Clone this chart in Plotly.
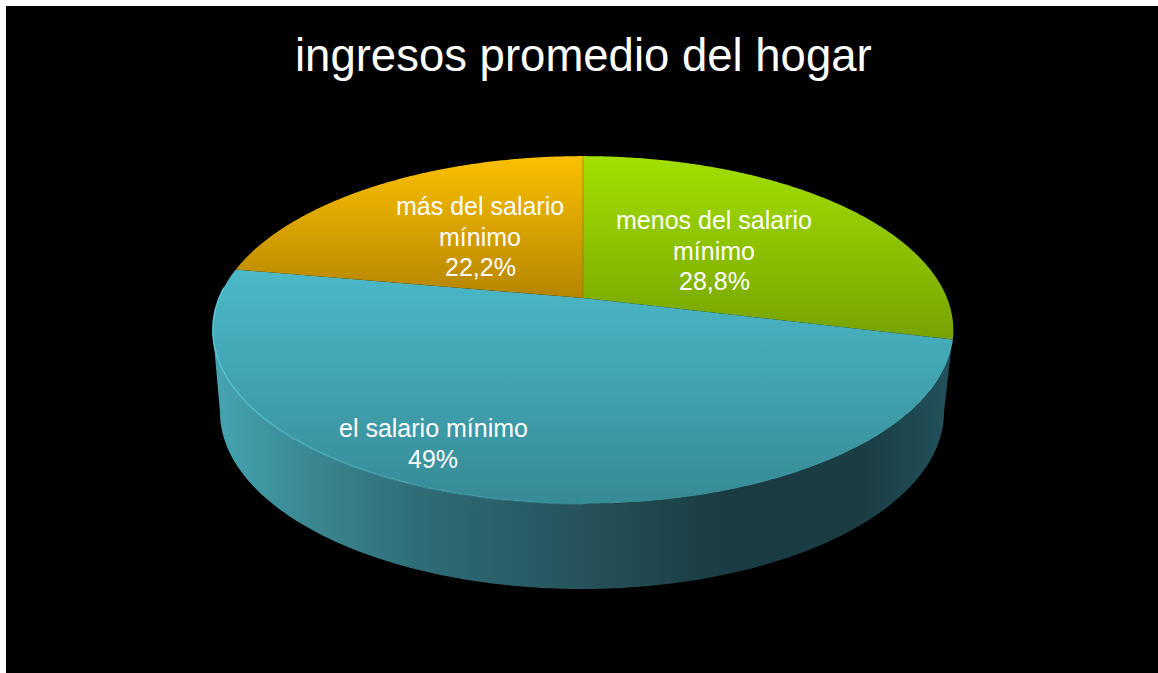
import numpy as np
import plotly.graph_objects as go

# data
categories = [["menos del salario", "mínimo"], ["el salario mínimo"], ["más del salario", "mínimo"]]
percent_labels = ["28,8%", "49%", "22,2%"]
values = [28.8, 49.0, 22.2]
title = "ingresos promedio del hogar"

# styles
top_colors = [("#A3E000", "#76A200"), ("#4BB9C8", "#378A96"), ("#FBC000", "#B58500")]
grad_spans = [(156, 340), (270, 504), (156, 298)]
label_pos = [(714, 220), (433, 428), (480, 206)]
LINE_STEP = 30.5
W, H = 1158, 673
CX, CY = 583, 298
A, B, K = 168.0, 364.0, 0.184


def project(theta):
    """Perspective view of a disc: theta clockwise from the top, in radians."""
    u, v = np.sin(theta), np.cos(theta)
    d = 1 + K * v
    return CX + B * u / d, CY - A * v / d


fig = go.Figure()

# side wall of the pie, from the widest rim point on the right to the one on the left
widest = np.arccos(-K)
t_up = np.linspace(widest, 2 * np.pi - widest, 240)
xr, yr = project(t_up)
t_low = np.linspace(3 * np.pi / 2, np.pi / 2, 240)
xb = 582 + 362 * np.sin(t_low)
yb = 412 - 177 * np.cos(t_low)
fig.add_trace(go.Scatter(
    x=np.r_[xr, xb, xr[:1]], y=np.r_[yr, yb, yr[:1]], mode="none", fill="toself",
    hoverinfo="skip", showlegend=False,
    fillgradient=dict(type="horizontal", start=220, stop=945, colorscale=[
        [0, "#45A3B0"], [0.12, "#3A8893"], [0.28, "#2E6C76"], [0.5, "#26525B"],
        [0.7, "#1A3B41"], [0.88, "#1A3C42"], [1, "#21505A"]]),
))

# top faces, one per value
start = 0.0
total = sum(values)
for i, v in enumerate(values):
    a0 = start / total * 2 * np.pi
    a1 = (start + v) / total * 2 * np.pi
    start += v
    th = np.linspace(a0, a1, 200)
    x, y = project(th)
    c0, c1 = top_colors[i]
    fig.add_trace(go.Scatter(
        x=np.r_[CX, x, CX], y=np.r_[CY, y, CY], mode="none", fill="toself",
        name=" ".join(categories[i]), hoverinfo="name", showlegend=False,
        fillgradient=dict(type="vertical", start=grad_spans[i][0], stop=grad_spans[i][1],
                          colorscale=[[0, c0], [1, c1]]),
    ))

# rim highlight, fading towards the front of the pie
rim_edges = np.linspace(1.0, 1.52, 9) * np.pi
rim_alpha = [0.25, 0.35, 0.45, 0.55, 0.65, 0.75, 0.8, 0.85]
for a0, a1, al in zip(rim_edges[:-1], rim_edges[1:], rim_alpha):
    x, y = project(np.linspace(a0, a1, 30))
    fig.add_trace(go.Scatter(x=x, y=y, mode="lines", hoverinfo="skip", showlegend=False,
                             line=dict(color=f"rgba(95,210,225,{al})", width=1.5)))

# darker spoke between the orange and green faces
x0, y0 = project(0.0)
fig.add_trace(go.Scatter(x=[x0, CX], y=[y0, CY], mode="lines", hoverinfo="skip", showlegend=False,
                         line=dict(color="rgba(120,110,0,0.55)", width=1)))

for cat, pct, (lx, ly) in zip(categories, percent_labels, label_pos):
    for n, line in enumerate(cat + [pct]):
        fig.add_annotation(x=lx, y=ly + n * LINE_STEP, xref="x", yref="y", showarrow=False,
                           text=line, font=dict(family="Liberation Sans", size=25, color="white"))

fig.add_annotation(x=583, y=55, xref="x", yref="y", showarrow=False, text=title,
                   font=dict(family="Liberation Sans", size=45.5, color="white"))

fig.update_layout(
    width=W, height=H, margin=dict(l=0, r=0, t=0, b=0), paper_bgcolor="white",
    plot_bgcolor="white",
    xaxis=dict(range=[0, W], visible=False, fixedrange=True),
    yaxis=dict(range=[H, 0], visible=False, fixedrange=True),
    shapes=[dict(type="rect", xref="x", yref="y", x0=6, y0=6, x1=W, y1=H,
                 fillcolor="black", line_width=0, layer="below")],
)
fig.write_html("out.html", config={"displayModeBar": False},
               post_script="document.body.style.margin='0';document.body.style.overflow='hidden';")
